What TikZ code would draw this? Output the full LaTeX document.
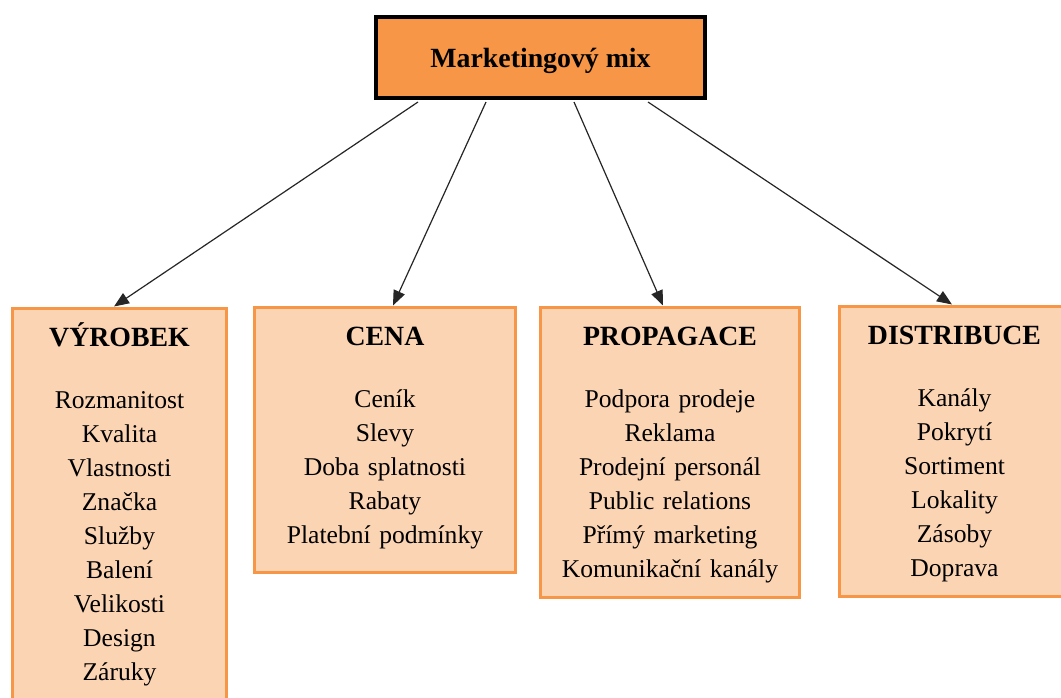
\documentclass[tikz,border=0pt]{standalone}
\usepackage{fontspec}
\setmainfont{Liberation Serif}
\usepackage{tikz}
\usetikzlibrary{arrows.meta}
\usetikzlibrary{calc}

\definecolor{oranzova}{HTML}{F79646}
\definecolor{svetla}{HTML}{FBD4B4}

\tikzset{
  hlavni/.style={draw=black, line width=2pt, fill=oranzova, outer sep=0pt,
    minimum width=164.5pt, minimum height=40.5pt, text height=10pt, text depth=0.5pt,
    font=\fontsize{13.9pt}{17pt}\selectfont\bfseries},
  skupina/.style={draw=oranzova, line width=1.5pt, fill=svetla, outer sep=0pt,
    anchor=north, inner xsep=0pt, inner ysep=0pt, align=center,
    text height=19pt, font=\fontsize{12.8pt}{17pt}\selectfont},
  sipka/.style={-{Triangle[length=7.5pt,width=6pt]}, line width=0.6pt, draw=black!85}
}
\newcommand{\nadpis}[1]{{\fontsize{13.9pt}{17pt}\selectfont\bfseries #1}\\[14pt]}

\begin{document}
\begin{tikzpicture}[x=0.5pt,y=-0.5pt]
    \clip (0,0) rectangle (1061,697);
    \fill[white] (0,0) rectangle (1061,697);

    \node[hlavni] (mix) at (540.5,57.5) {Marketingový mix};

    \node[skupina, text width=107pt, text depth=180pt] (vyrobek) at (119.5,308.5)
      {\nadpis{VÝROBEK}Rozmanitost\\Kvalita\\Vlastnosti\\Značka\\Služby\\Balení\\Velikosti\\Design\\Záruky};
    \node[skupina, text width=130.5pt, text depth=113.5pt] (cena) at (385,307.5)
      {\nadpis{CENA}Ceník\\Slevy\\Doba splatnosti\\Rabaty\\Platební podmínky};
    \node[skupina, text width=129.5pt, text depth=126pt] (propagace) at (670,307.5)
      {\nadpis{PROPAGACE}Podpora prodeje\\Reklama\\Prodejní personál\\Public relations\\Přímý marketing\\Komunikační kanály};
    \node[skupina, text width=115pt, text depth=126pt] (distribuce) at (954.5,306.5)
      {\nadpis{DISTRIBUCE}Kanály\\Pokrytí\\Sortiment\\Lokality\\Zásoby\\Doprava};

    \draw[sipka] ($(mix.south west)+(42,4)$) -- ($(vyrobek.north)+(-5.5,-2)$);
    \draw[sipka] ($(mix.south west)+(110,4)$) -- ($(cena.north)+(8,-2)$);
    \draw[sipka] ($(mix.south west)+(198,4)$) -- ($(propagace.north)+(-7,-2)$);
    \draw[sipka] ($(mix.south west)+(272,4)$) -- ($(distribuce.north)+(-2.5,-2)$);
  \end{tikzpicture}
\end{document}
